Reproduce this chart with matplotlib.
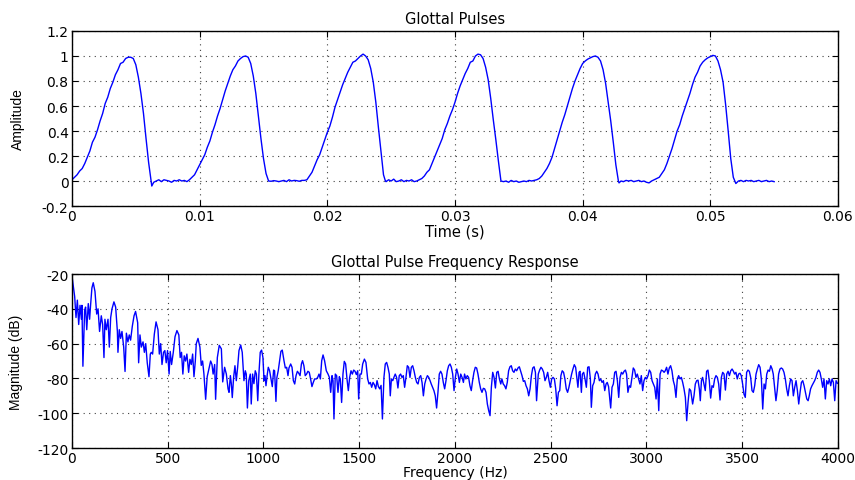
import numpy as np
import matplotlib
matplotlib.use("Agg")
import matplotlib.pyplot as plt

# ---- top panel: glottal pulse train (time in ms, amplitude) ----
pulse_t_ms = [
    0.0, 0.2, 0.4, 0.6, 0.8, 1.0, 1.2, 1.4, 1.6, 1.8, 2.0, 2.2, 2.4, 2.6, 2.8, 3.0,
    3.2, 3.4, 3.6, 3.8, 4.0, 4.2, 4.4, 4.6, 4.7, 4.8, 5.0, 5.2, 5.4, 5.6, 5.8, 6.0,
    6.2, 6.25, 6.4, 6.6, 6.8, 7.0, 7.2, 7.4, 7.6, 7.8, 8.0, 8.2, 8.4, 8.6, 8.8, 9.0,
    9.2, 9.4, 9.6, 9.8, 10.0, 10.2, 10.4, 10.6, 10.8, 11.0, 11.2, 11.4, 11.6, 11.8,
    12.0, 12.2, 12.4, 12.6, 12.8, 13.0, 13.2, 13.4, 13.6, 13.8, 14.0, 14.2, 14.4,
    14.6, 14.8, 15.0, 15.2, 15.4, 15.6, 15.8, 16.0, 16.2, 16.4, 16.6, 16.8, 17.0,
    17.2, 17.4, 17.6, 17.8, 18.0, 18.2, 18.4, 18.6, 18.8, 19.0, 19.2, 19.4, 19.6,
    19.8, 20.0, 20.2, 20.4, 20.6, 20.8, 21.0, 21.2, 21.4, 21.6, 21.8, 22.0, 22.2,
    22.4, 22.6, 22.8, 23.0, 23.2, 23.4, 23.6, 23.8, 24.0, 24.2, 24.4, 24.55, 24.6,
    24.8, 25.0, 25.2, 25.4, 25.6, 25.8, 26.0, 26.2, 26.4, 26.6, 26.8, 27.0, 27.2,
    27.4, 27.6, 27.8, 28.0, 28.2, 28.4, 28.6, 28.8, 29.0, 29.2, 29.4, 29.6, 29.8,
    30.0, 30.2, 30.4, 30.6, 30.8, 31.0, 31.2, 31.4, 31.6, 31.8, 32.0, 32.2, 32.4,
    32.6, 32.8, 33.0, 33.2, 33.4, 33.6, 33.8, 34.0, 34.2, 34.4, 34.6, 34.8, 35.0,
    35.2, 35.4, 35.6, 35.8, 36.0, 36.2, 36.4, 36.6, 36.8, 37.0, 37.2, 37.4, 37.6,
    37.8, 38.0, 38.2, 38.4, 38.6, 38.8, 39.0, 39.2, 39.4, 39.6, 39.8, 40.0, 40.2,
    40.4, 40.6, 40.8, 41.0, 41.2, 41.4, 41.6, 41.8, 42.0, 42.2, 42.4, 42.6, 42.8,
    42.85, 43.0, 43.2, 43.4, 43.6, 43.8, 44.0, 44.2, 44.4, 44.6, 44.8, 45.0, 45.2,
    45.4, 45.6, 45.8, 46.0, 46.2, 46.4, 46.6, 46.8, 47.0, 47.2, 47.4, 47.6, 47.8,
    48.0, 48.2, 48.4, 48.6, 48.8, 49.0, 49.2, 49.4, 49.6, 49.8, 50.0, 50.2, 50.4,
    50.6, 50.8, 51.0, 51.2, 51.4, 51.6, 51.8, 52.0, 52.2, 52.4, 52.6, 52.8, 53.0,
    53.2, 53.4, 53.6, 53.8, 54.0, 54.2, 54.4, 54.6, 54.8, 55.0,
]
pulse_amp = [
    0.01, 0.03, 0.05, 0.08, 0.10, 0.14, 0.19, 0.24, 0.31, 0.35, 0.41, 0.48, 0.54, 0.62, 0.67, 0.74,
    0.79, 0.85, 0.89, 0.94, 0.95, 0.98, 0.99, 0.99, 0.985, 0.98, 0.93, 0.83, 0.70, 0.54, 0.34, 0.15,
    0.0, -0.04, -0.01, 0.0, 0.01, -0.005, 0.01, 0.005, 0.0, -0.01, 0.005, 0.0, 0.01, 0.0, 0.005, -0.005,
    0.01, 0.03, 0.05, 0.09, 0.13, 0.17, 0.21, 0.27, 0.32, 0.39, 0.45, 0.52, 0.58, 0.65,
    0.72, 0.78, 0.84, 0.89, 0.92, 0.96, 0.98, 0.995, 1.0, 0.99, 0.94, 0.84, 0.70,
    0.52, 0.34, 0.18, 0.06, 0.0, -0.002, 0.003, 0.0, -0.005, 0.0, 0.005, -0.005, 0.01,
    0.0, 0.005, 0.003, -0.002, 0.005, 0.005, 0.01, 0.04, 0.07, 0.12, 0.17, 0.21, 0.27,
    0.33, 0.39, 0.44, 0.51, 0.59, 0.65, 0.71, 0.77, 0.82, 0.87, 0.91, 0.95, 0.96,
    0.98, 1.0, 1.015, 1.0, 0.97, 0.90, 0.79, 0.63, 0.43, 0.24, 0.05, 0.0, -0.005,
    0.01, 0.0, 0.015, -0.005, 0.0, 0.01, -0.005, 0.005, 0.0, 0.01, -0.005, 0.0, 0.01,
    0.02, 0.04, 0.07, 0.09, 0.14, 0.19, 0.24, 0.29, 0.34, 0.41, 0.46, 0.52, 0.57,
    0.63, 0.70, 0.76, 0.81, 0.86, 0.90, 0.95, 0.96, 1.0, 1.015, 1.01, 0.98, 0.91,
    0.81, 0.66, 0.49, 0.33, 0.16, 0.0, -0.005, 0.0, -0.01, 0.005, -0.005, 0.0, -0.01,
    -0.005, 0.0, -0.005, 0.005, 0.0, 0.005, 0.01, 0.02, 0.04, 0.07, 0.10, 0.14, 0.19,
    0.26, 0.33, 0.40, 0.47, 0.53, 0.60, 0.67, 0.74, 0.80, 0.85, 0.90, 0.94, 0.96,
    0.975, 0.985, 0.995, 1.0, 0.99, 0.96, 0.89, 0.78, 0.63, 0.48, 0.31, 0.13, 0.0,
    -0.015, 0.0, -0.005, 0.005, 0.0, 0.005, -0.005, 0.0, 0.005, -0.005, 0.0, -0.01, -0.015,
    0.0, 0.01, 0.02, 0.03, 0.06, 0.09, 0.14, 0.20, 0.26, 0.33, 0.40, 0.45, 0.52,
    0.58, 0.64, 0.70, 0.77, 0.83, 0.87, 0.92, 0.95, 0.97, 0.985, 0.995, 1.005, 1.0,
    0.96, 0.89, 0.79, 0.61, 0.40, 0.18, 0.03, -0.02, 0.0, 0.005, -0.005, 0.005, 0.0,
    0.005, -0.005, 0.0, 0.005, -0.005, 0.0, 0.005, -0.005, 0.0, -0.005,
]

# ---- bottom panel: magnitude spectrum ----
freq_hz = [
    1, 14, 21, 28, 35, 42, 49, 52, 57, 66, 71, 77, 85, 92, 97, 104, 111, 120, 129, 136,
    144, 153, 160, 167, 172, 179, 188, 195, 202, 209, 219, 228, 237, 240, 247, 254, 261,
    270, 277, 284, 292, 299, 306, 315, 324, 332, 343, 348, 355, 362, 371, 378, 385, 393,
    402, 409, 414, 421, 430, 439, 449, 456, 463, 470, 478, 485, 492, 499, 507, 513, 520,
    529, 538, 548, 558, 565, 572, 579, 586, 593, 600, 609, 616, 623, 630, 637, 644, 649,
    658, 668, 675, 682, 689, 698, 706, 713, 724, 731, 737, 745, 750, 759, 769, 780, 787,
    797, 806, 815, 820, 827, 832, 837, 844, 851, 858, 865, 872, 881, 889, 898, 905, 910,
    916, 923, 931, 936, 943, 950, 957, 963, 970, 976, 983, 990, 997, 1003, 1008, 1013,
    1020, 1025, 1032, 1039, 1046, 1053, 1058, 1065, 1070, 1077, 1084, 1091, 1098, 1107,
    1114, 1121, 1128, 1133, 1142, 1149, 1156, 1163, 1170, 1177, 1184, 1191, 1198, 1204,
    1211, 1218, 1225, 1232, 1239, 1246, 1253, 1260, 1267, 1276, 1283, 1290, 1297, 1304,
    1311, 1319, 1328, 1337, 1344, 1351, 1358, 1363, 1368, 1375, 1382, 1389, 1396, 1401,
    1408, 1415, 1422, 1429, 1436, 1443, 1450, 1457, 1464, 1471, 1478, 1485, 1492, 1497,
    1504, 1511, 1518, 1527, 1535, 1544, 1551, 1558, 1565, 1572, 1579, 1586, 1593, 1600,
    1607, 1614, 1621, 1629, 1636, 1643, 1650, 1657, 1662, 1668, 1675, 1681, 1688, 1695,
    1702, 1709, 1716, 1723, 1730, 1737, 1744, 1751, 1758, 1765, 1772, 1779, 1786, 1793,
    1800, 1807, 1814, 1821, 1828, 1835, 1842, 1849, 1856, 1863, 1870, 1876, 1883, 1890,
    1897, 1904, 1911, 1918, 1925, 1932, 1939, 1946, 1953, 1960, 1967, 1974, 1981, 1988,
    1995, 2002, 2009, 2016, 2023, 2030, 2037, 2044, 2050, 2057, 2064, 2071, 2078, 2085,
    2092, 2099, 2106, 2113, 2120, 2127, 2134, 2141, 2148, 2155, 2162, 2169, 2176, 2183,
    2190, 2197, 2204, 2211, 2218, 2225, 2232, 2239, 2245, 2252, 2259, 2266, 2273, 2280,
    2287, 2294, 2301, 2308, 2315, 2322, 2329, 2336, 2343, 2350, 2357, 2364, 2371, 2378,
    2385, 2392, 2399, 2406, 2413, 2420, 2426, 2435, 2442, 2449, 2456, 2463, 2470, 2477,
    2484, 2491, 2498, 2505, 2512, 2519, 2526, 2533, 2540, 2547, 2553, 2560, 2567, 2574,
    2581, 2588, 2595, 2602, 2609, 2616, 2623, 2630, 2637, 2642, 2648, 2653, 2660, 2665,
    2672, 2679, 2686, 2693, 2700, 2707, 2712, 2719, 2726, 2733, 2740, 2747, 2754, 2761,
    2768, 2775, 2782, 2789, 2795, 2802, 2809, 2813, 2820, 2827, 2834, 2841, 2848, 2855,
    2862, 2869, 2876, 2883, 2890, 2896, 2903, 2910, 2917, 2924, 2931, 2938, 2945, 2952,
    2959, 2966, 2973, 2980, 2987, 2994, 3001, 3008, 3015, 3022, 3029, 3036, 3043, 3050,
    3057, 3064, 3071, 3078, 3085, 3092, 3098, 3105, 3112, 3119, 3126, 3133, 3140, 3147,
    3154, 3161, 3168, 3175, 3182, 3189, 3196, 3203, 3210, 3217, 3224, 3231, 3241, 3248,
    3255, 3262, 3269, 3276, 3281, 3287, 3293, 3300, 3307, 3314, 3321, 3328, 3335, 3342,
    3349, 3356, 3363, 3370, 3377, 3384, 3391, 3398, 3405, 3412, 3419, 3426, 3433, 3440,
    3447, 3454, 3460, 3467, 3474, 3481, 3488, 3495, 3502, 3509, 3516, 3523, 3530, 3537,
    3544, 3551, 3558, 3565, 3572, 3579, 3586, 3593, 3600, 3607, 3614, 3621, 3628, 3635,
    3642, 3649, 3656, 3662, 3669, 3676, 3683, 3690, 3697, 3704, 3711, 3718, 3725, 3732,
    3739, 3746, 3753, 3760, 3767, 3774, 3781, 3788, 3795, 3802, 3809, 3816, 3823, 3830,
    3837, 3844, 3850, 3857, 3864, 3871, 3878, 3885, 3892, 3899, 3906, 3913, 3920, 3927,
    3934, 3941, 3948, 3955, 3962, 3969, 3976, 3983, 3990, 3997,
]
mag_db = [
    -22, -33, -45, -35, -49, -38, -46, -38, -73, -41, -39, -52, -37, -46, -38, -28, -25, -30, -43, -40,
    -53, -44, -49, -68, -46, -52, -46, -62, -45, -40, -36, -39, -53, -65, -52, -57, -53,
    -62, -76, -54, -59, -55, -58, -50, -44, -41.5, -48, -71, -55, -62, -59, -65, -60, -71,
    -79, -66, -65, -66, -54.5, -47.5, -52, -66, -60, -72, -65, -64, -71, -64, -77.5, -64.5, -72,
    -65, -56, -52.5, -55, -68, -65, -77.5, -67, -70, -66, -76.5, -69, -72, -66, -79, -70, -60,
    -57, -62, -72.5, -70, -77.5, -92, -79, -75.5, -70, -72, -77.5, -72, -92, -68, -61, -63, -82,
    -73.6, -77.5, -86, -88, -78.4, -83, -91, -79.4, -72.7, -81.3, -73.6, -64, -60.8, -65, -81.3, -75.6, -77.5,
    -97, -81.3, -77.5, -94.7, -77.5, -83, -75.6, -77.5, -92.8, -77.5, -65, -63.7, -67.9, -81.3, -78.4, -84.2,
    -77.5, -73.6, -75.6, -80.3, -84.7, -75.2, -75.6, -93.2, -79.4, -75.6, -69.8, -64.4, -63.7, -69.8,
    -74, -73.6, -78.4, -74, -71.7, -73.6, -81.3, -83.2, -78.4, -75.9, -77, -78.4, -71.7, -69.8,
    -72.7, -78.4, -77.5, -75.9, -76.5, -80.3, -84.7, -82.3, -80.3, -80.3, -79.4, -77.5, -80.3, -69.8,
    -66.5, -69.8, -75.6, -77.5, -79.4, -88, -78.4, -81.3, -103.3, -77.5, -78.4, -88, -79, -80.3,
    -93.8, -77.5, -70.2, -71.7, -80.3, -87, -79.4, -75.6, -77.5, -75.2, -75.9, -77.8, -75.6, -91.8,
    -77.5, -77.5, -71.7, -68.9, -70.8, -80.3, -83.2, -82.3, -85.1, -82.3, -83.6, -86, -81.3, -84.7,
    -86, -84, -103.3, -79.4, -71.7, -70.8, -73.6, -77.5, -90, -80.3, -81.3, -79.4, -77.5, -79.4,
    -85.5, -78.4, -77.5, -79.4, -78.4, -85.1, -79.4, -72.7, -73.6, -79.4, -73.6, -72.7, -75.6, -79.4,
    -82.3, -83.2, -79.4, -78.4, -82.3, -90, -83.2, -80.3, -78.4, -79.4, -81.3, -83.2, -85.1, -87,
    -90, -97, -88, -77.5, -75.9, -77.5, -82.3, -86, -81.3, -75.6, -72.7, -71.7, -73.6, -77.5,
    -87, -79.4, -74.6, -77.5, -82.3, -77.5, -79.4, -82.3, -77.5, -80.3, -78.4, -79.4, -84.2, -87,
    -81.3, -76.5, -73.6, -74, -77.5, -82.3, -86, -88, -85.7, -86, -88, -94.7, -98.5, -101.4,
    -85, -76.5, -79.4, -85.5, -76.5, -75.9, -80.3, -83.2, -80.3, -83.2, -84.2, -86, -82.3, -75.6,
    -73.3, -72.7, -75.6, -76.5, -74.6, -75.6, -74, -73.3, -75.9, -78.4, -81.7, -81.3, -84.2, -86,
    -90, -86, -78.4, -74, -73.3, -76.5, -92.8, -77.5, -75.2, -73.6, -74.6, -76.5, -81.3, -79.4,
    -76.5, -81.3, -85.1, -80.3, -79.4, -80.3, -86, -95.7, -88, -87, -78.4, -75.6, -76.5, -80.3,
    -86, -88, -85.1, -81.3, -77.5, -74.6, -72.1, -73.6, -80.3, -85.1, -76.5, -75.9, -88, -77.5,
    -76.5, -80.3, -85.1, -73.6, -73.3, -80.3, -96.6, -84.2, -82.3, -77.5, -75.9, -77.5, -81.3, -80.3,
    -82.3, -81.3, -87, -83.2, -82.3, -84.7, -92.8, -97, -85.1, -83.2, -76.5, -75.9, -81.3, -90.9,
    -79.4, -76.5, -77.5, -75.9, -75.2, -77.5, -88, -84.2, -85.1, -79.4, -74, -75.2, -79.4, -77.5,
    -80.3, -83.2, -78.4, -87, -81.3, -79.4, -80.3, -78.4, -75.2, -76.5, -81.3, -83.2, -85.1, -91.8,
    -80.3, -98.5, -77.5, -75.2, -75.6, -76.5, -75.6, -73.6, -77.5, -74, -72.7, -75.6, -81.3, -84.2,
    -90.9, -80.3, -78.4, -80.3, -79.4, -82.3, -86, -90.9, -104.3, -93.8, -86, -87, -94.7, -90,
    -83.2, -81.3, -81, -86, -92.8, -81.3, -79.4, -83.2, -87, -75.9, -75.2, -81.3, -91.3, -84.2,
    -85.1, -80.3, -78.4, -79.4, -83.2, -92.4, -79.4, -76.5, -77.5, -86.7, -77.5, -75.9, -78.4, -75.6,
    -74.6, -75.9, -77.5, -76.5, -80.3, -77.5, -77, -78.4, -83.2, -89, -90.9, -76.5, -75.2, -75.9,
    -79.4, -87, -88, -84.2, -77.5, -74.6, -72.1, -73.6, -80.3, -97.6, -83.2, -86, -77.5, -75.2,
    -75.9, -72.7, -74.6, -77.5, -85.1, -92.8, -86.7, -77.5, -74.6, -74, -74.6, -76.5, -80.3, -86,
    -90, -84.2, -80.3, -81.3, -90, -85.1, -81.3, -87, -94.7, -88, -82.3, -81.3, -84.2, -88,
    -91.8, -92.8, -90, -86, -84.2, -82.8, -81.3, -79.4, -76.5, -75.2, -76.5, -80.3, -85.1, -80.3,
    -91.8, -81.3, -83.2, -80.3, -84.2, -80.3, -82.3, -92.8, -81.3, -82.8,
]

# ---- axis ticks / labels ----
top_xticks = [0, 0.01, 0.02, 0.03, 0.04, 0.05, 0.06]
top_xlabels = ['0', '0.01', '0.02', '0.03', '0.04', '0.05', '0.06']
top_yticks = [-0.2, 0, 0.2, 0.4, 0.6, 0.8, 1.0, 1.2]
top_ylabels = ['-0.2', '0', '0.2', '0.4', '0.6', '0.8', '1', '1.2']
bot_xticks = [0, 500, 1000, 1500, 2000, 2500, 3000, 3500, 4000]
bot_yticks = [-120, -100, -80, -60, -40, -20]

plt.rcParams['font.family'] = 'DejaVu Sans'
plt.rcParams['axes.unicode_minus'] = False


def style_axes(ax):
    ax.grid(True, color='0.25', linestyle=(0, (1, 4)), linewidth=0.8)
    ax.tick_params(direction='in', top=True, right=True, length=4, width=0.8,
                   labelsize=10, pad=2.5)
    for s in ax.spines.values():
        s.set_linewidth(1.0)


fig = plt.figure(figsize=(8.55, 4.81), dpi=100)

ax1 = fig.add_axes([0.0842, 0.5696, 0.8959, 0.3639])
t = np.array(pulse_t_ms) / 1000.0
ax1.plot(t, pulse_amp, color='#0000ff', linewidth=1.0)
ax1.set_xlim(0, 0.06)
ax1.set_ylim(-0.2, 1.2)
ax1.set_xticks(top_xticks)
ax1.set_xticklabels(top_xlabels)
ax1.set_yticks(top_yticks)
ax1.set_yticklabels(top_ylabels)
style_axes(ax1)
ax1.set_title('Glottal Pulses', fontsize=10.5, pad=6)
ax1.set_xlabel('Time (s)', fontsize=10.5)
ax1.xaxis.set_label_coords(0.5, -0.1)
ax1.set_ylabel('Amplitude', fontsize=10, family='Liberation Sans')
ax1.yaxis.set_label_coords(-0.061, 0.5)

ax2 = fig.add_axes([0.0842, 0.0665, 0.8959, 0.3617])
ax2.plot(freq_hz, mag_db, color='#0000ff', linewidth=1.0)
ax2.set_xlim(0, 4000)
ax2.set_ylim(-120, -20)
ax2.set_xticks(bot_xticks)
ax2.set_yticks(bot_yticks)
style_axes(ax2)
ax2.set_title('Glottal Pulse Frequency Response', fontsize=10.5, pad=6)
ax2.set_xlabel('Frequency (Hz)', fontsize=10)
ax2.xaxis.set_label_coords(0.5, -0.1)
ax2.set_ylabel('Magnitude (dB)', fontsize=10, family='Liberation Sans')
ax2.yaxis.set_label_coords(-0.064, 0.5)

fig.savefig('out.png', dpi=100)
